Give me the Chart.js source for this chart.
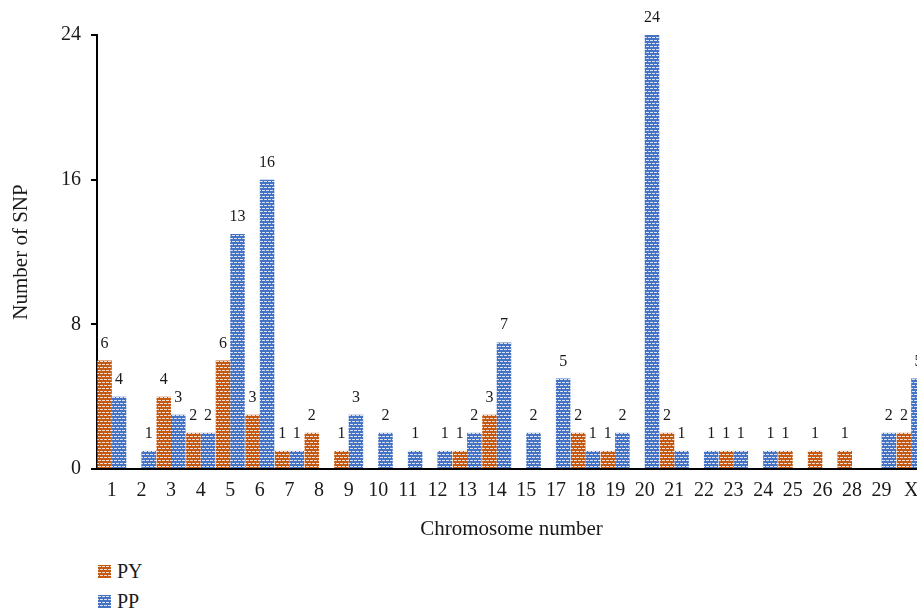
<!DOCTYPE html>
<html><head><meta charset="utf-8">
<script src="https://cdn.jsdelivr.net/npm/chart.js@4"></script>
<style>
html,body{margin:0;padding:0;background:#fff;overflow:hidden;width:917px;height:612px;}
#wrap{position:absolute;left:0;top:0;width:940px;height:545px;}
#legend{position:absolute;left:98px;top:556px;font-family:"Liberation Serif",serif;font-size:20px;color:#1a1a1a;}
.item{display:flex;align-items:center;height:30px;}
.sw{width:13px;height:13px;margin-right:6px;image-rendering:pixelated;}
</style></head>
<body>
<div id="wrap"><canvas id="c"></canvas></div>
<div id="legend"></div>
<script>
const categories = ['1','2','3','4','5','6','7','8','9','10','11','12','13','14','15','17','18','19','20','21','22','23','24','25','26','28','29','X'];
const seriesNames = ['PY','PP'];
const pyValues = [6,0,4,2,6,3,1,2,1,0,0,0,1,3,0,0,2,1,0,2,0,1,0,1,1,1,0,2];
const ppValues = [4,1,3,2,13,16,1,0,3,2,1,1,2,7,2,5,1,2,24,1,1,1,1,0,0,0,2,5];
const yTicks = [0,8,16,24];
const seriesColors = ['#C65911','#4472C4'];

const FONT = '"Liberation Serif", "Times New Roman", serif';
const TEXT = '#1a1a1a';

function makeTile(color){
  const c = document.createElement('canvas'); c.width = 4; c.height = 6;
  const x = c.getContext('2d');
  x.fillStyle = color; x.fillRect(0,0,4,6);
  x.fillStyle = 'rgba(255,255,255,0.8)';
  x.fillRect(0,1,3,1);
  x.fillRect(0,4,1,1); x.fillRect(2,4,2,1);
  return c;
}
const tiles = seriesColors.map(makeTile);
const ctx = document.getElementById('c').getContext('2d');
const patterns = tiles.map(t => ctx.createPattern(t, 'repeat'));

// HTML legend
const lg = document.getElementById('legend');
seriesNames.forEach((n,i)=>{
  const it = document.createElement('div'); it.className='item';
  const sw = document.createElement('span'); sw.className='sw';
  sw.style.backgroundImage = 'url(' + tiles[i].toDataURL() + ')';
  const tx = document.createElement('span'); tx.textContent = n;
  it.appendChild(sw); it.appendChild(tx); lg.appendChild(it);
});

const valueLabels = {
  id:'valueLabels',
  afterDatasetsDraw(chart){
    const c = chart.ctx; c.save();
    c.font = '16px ' + FONT; c.fillStyle = TEXT;
    c.textAlign = 'center'; c.textBaseline = 'alphabetic';
    chart.data.datasets.forEach((ds,i)=>{
      const meta = chart.getDatasetMeta(i);
      meta.data.forEach((bar,j)=>{
        const v = ds.data[j];
        if (!v) return;
        c.fillText(String(v), bar.x, bar.y - 13);
      });
    });
    c.restore();
  }
};

new Chart(ctx, {
  type:'bar',
  data:{
    labels: categories,
    datasets:[
      {label:seriesNames[0], data:pyValues, backgroundColor:patterns[0], borderWidth:0, categoryPercentage:0.98, barPercentage:1.0},
      {label:seriesNames[1], data:ppValues, backgroundColor:patterns[1], borderWidth:0, categoryPercentage:0.98, barPercentage:1.0}
    ]
  },
  options:{
    responsive:true, maintainAspectRatio:false, animation:false,
    layout:{padding:{left:0, top:35, right:14, bottom:0}},
    plugins:{legend:{display:false}, tooltip:{enabled:false}},
    scales:{
      x:{
        grid:{display:false, drawTicks:false},
        border:{display:true, color:'#000', width:2},
        ticks:{color:TEXT, font:{family:FONT, size:20}, padding:10, maxRotation:0, autoSkip:false},
        title:{display:true, text:'Chromosome number', color:TEXT, font:{family:FONT, size:21}, padding:{top:0,bottom:3}},
        afterFit(s){ s.height = 76; }
      },
      y:{
        min:0, max:24,
        afterBuildTicks(s){ s.ticks = yTicks.map(v=>({value:v})); },
        grid:{drawOnChartArea:false, drawTicks:true, tickLength:6, color:'#000', lineWidth:2},
        border:{display:true, color:'#000', width:2},
        ticks:{color:TEXT, font:{family:FONT, size:20}, padding:10},
        title:{display:true, text:'Number of SNP', color:TEXT, font:{family:FONT, size:21}, padding:{top:9,bottom:0}},
        afterFit(s){ s.width = 97; }
      }
    }
  },
  plugins:[valueLabels]
});
</script>
</body></html>
